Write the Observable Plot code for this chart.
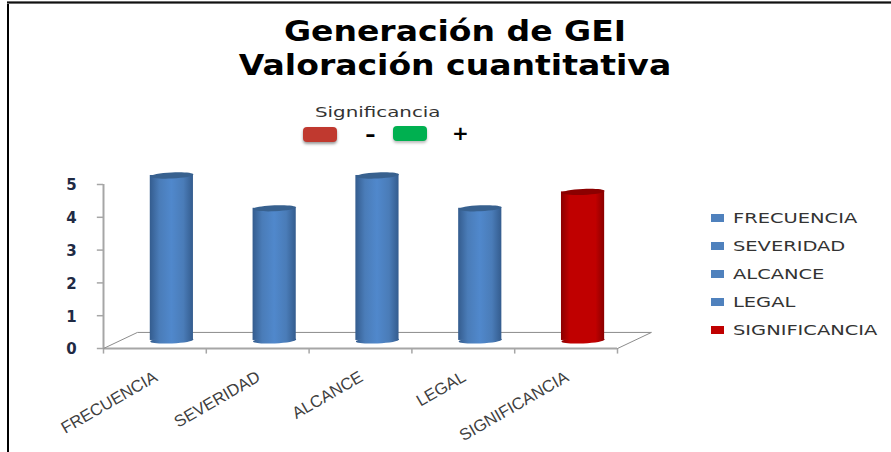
<!DOCTYPE html>
<html><head><meta charset="utf-8">
<script src="https://cdn.jsdelivr.net/npm/d3@7"></script>
<script src="https://cdn.jsdelivr.net/npm/@observablehq/plot@0.6"></script>
<style>
html,body{margin:0;padding:0;background:#fff;overflow:hidden}
#page{position:relative;width:891px;height:452px;overflow:hidden}
#page svg{position:absolute;left:0;top:0}
.t{position:absolute;white-space:nowrap;font-family:"DejaVu Sans";color:#000;transform-origin:left center}
.title{font-weight:bold;font-size:28px;left:0;width:910px;text-align:center;transform-origin:center center;transform:scaleX(1.18)}
.sw{position:absolute}
.edge{position:absolute;background:#000}
</style></head><body><div id="page"></div>
<script>
const categories = ["FRECUENCIA","SEVERIDAD","ALCANCE","LEGAL","SIGNIFICANCIA"];
const values = [5,4,5,4,4.5];
const colorKeys = ["blue","blue","blue","blue","red"];
const yTicks = [0,1,2,3,4,5];
const titleLines = ["Generación de GEI","Valoración cuantitativa"];
const legendColors = ["#4f81bd","#4f81bd","#4f81bd","#4f81bd","#c00000"];

const depthX = 0.33, depthY = 0.49, halfBar = 0.21;
const data = categories.map((c,i)=>({c,i,v:values[i],k:colorKeys[i],
  cx:i+0.5+depthX/2, base:depthY/2, top:values[i]+depthY/2+0.03}));

const ellipse = {draw(ctx){ // tilted flat cap of a cylinder
  const rx=21.6, ry=3, t=0.045, k=0.5523;
  const p=(a,b)=>[a*Math.cos(t)+b*Math.sin(t), -a*Math.sin(t)+b*Math.cos(t)];
  const pts=[[ -rx,0],[-rx,-k*ry],[-k*rx,-ry],[0,-ry],[k*rx,-ry],[rx,-k*ry],[rx,0],[rx,k*ry],[k*rx,ry],[0,ry],[-k*rx,ry],[-rx,k*ry],[-rx,0]].map(q=>p(q[0],q[1]));
  ctx.moveTo(...pts[0]);
  for(let j=1;j<pts.length;j+=3) ctx.bezierCurveTo(...pts[j],...pts[j+1],...pts[j+2]);
  ctx.closePath();
}};

const defs = () => {
  const s = d3.create("svg:defs");
  const g=(id,stops)=>{const l=s.append("linearGradient").attr("id",id).attr("x1",0).attr("x2",1).attr("y1",0).attr("y2",0);
    stops.forEach(([o,c])=>l.append("stop").attr("offset",o).attr("stop-color",c));};
  g("blue",[[0,"#345c8e"],[0.22,"#4a7cb8"],[0.5,"#5088cc"],[0.78,"#4a7cb8"],[1,"#345c8e"]]);
  g("red",[[0,"#8a0000"],[0.2,"#c00000"],[0.8,"#c00000"],[1,"#8a0000"]]);
  return s.node();
};
const gray="#a6a6a6";
const plot = Plot.plot({
  width:891,height:452,marginLeft:103,marginRight:274,marginTop:184,marginBottom:104,
  style:{background:"transparent"},
  x:{domain:[0,5],axis:null},
  y:{domain:[0,5],axis:null},
  marks:[
    defs,
    Plot.ruleX([0,1,2,3,4,5],{y1:0,y2:-0.17,stroke:gray,strokeWidth:1.5}),
    Plot.ruleY(yTicks,{x1:-0.06,x2:0,stroke:gray,strokeWidth:1.5}),
    Plot.ruleX([0],{y1:0,y2:5,stroke:gray,strokeWidth:2}),
    Plot.ruleY([0],{x1:0,x2:5,stroke:gray,strokeWidth:2}),
    Plot.link([{a:0,b:0,c:depthX,d:depthY},{a:5,b:0,c:5+depthX,d:depthY},{a:depthX,b:depthY,c:5+depthX,d:depthY}],
      {x1:"a",y1:"b",x2:"c",y2:"d",stroke:"#8c8c8c",strokeWidth:1}),
    Plot.text(yTicks,{x:0,y:d=>d,text:d=>String(d),dx:-32,dy:1,textAnchor:"middle",fontSize:15,fontFamily:"DejaVu Sans",fontWeight:"bold",fill:"#1f2a44"}),
    Plot.dot(data,{x:"cx",y:"base",symbol:()=>ellipse,fill:d=>`url(#${d.k})`,r:10}),
    Plot.rectY(data,{x1:d=>d.cx-halfBar,x2:d=>d.cx+halfBar,y1:"base",y2:"top",fill:d=>`url(#${d.k})`}),
    Plot.dot(data,{x:"cx",y:"top",symbol:()=>ellipse,fill:d=>d.k==="blue"?"#38618f":"#8b0000",r:10}),
    Plot.text(data,{x:d=>d.i+0.5,y:0,text:"c",dx:1,dy:27,rotate:-30,textAnchor:"end",fontSize:16.6,fontFamily:"Liberation Sans",fill:"#404040"})
  ]
});
const page=document.getElementById("page");
page.appendChild(plot);
const add=(cls,txt,st)=>{const e=document.createElement("div");e.className=cls;if(txt)e.textContent=txt;Object.assign(e.style,st);page.appendChild(e);return e;};
add("edge","",{left:"7px",top:"2px",width:"2px",height:"450px"});
add("edge","",{left:"7px",top:"1px",width:"884px",height:"3px",background:"linear-gradient(#999,#111 50%,#999)"});
titleLines.forEach((t,i)=>add("t title",t,{top:(15+i*34)+"px"}));
add("t","Significancia",{left:"315px",top:"104px",fontSize:"13.5px",color:"#333",transform:"scaleX(1.47)"});
add("sw","",{left:"303px",top:"127px",width:"34px",height:"15px",background:"#c0392f",borderRadius:"4px",boxShadow:"0 2px 3px #999"});
add("sw","",{left:"393px",top:"126px",width:"34px",height:"15px",background:"#00b050",borderRadius:"4px",boxShadow:"0 2px 3px #bbb"});
add("t","-",{left:"365px",top:"122px",fontSize:"20px",fontWeight:"bold",transform:"scaleX(1.3)"});
add("t","+",{left:"452px",top:"121px",fontSize:"20px",fontWeight:"bold"});
categories.forEach((c,i)=>{const y=218+i*28;
  add("sw","",{left:"711px",top:(y-4)+"px",width:"13px",height:"8px",background:legendColors[i]});
  add("t",c,{left:"733px",top:(y-8)+"px",fontSize:"13.5px",color:"#333",transform:"scaleX(1.44)"});
});
</script></body></html>
